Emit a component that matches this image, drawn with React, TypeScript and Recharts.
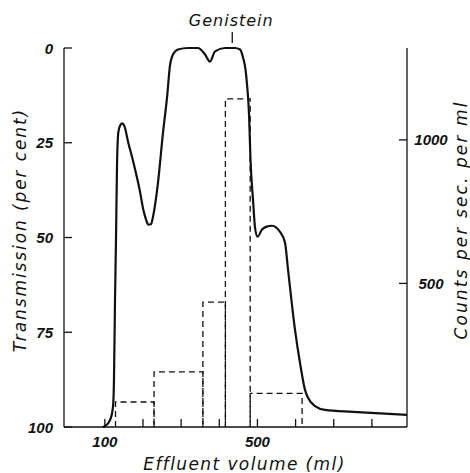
import React from 'react';
import { ComposedChart, Line, XAxis, YAxis, ReferenceDot, Label } from 'recharts';

// Elution profile: effluent volume (ml) against transmission (per cent)
const volume = [
  95, 100.5, 113.6, 121.4, 124, 126.7, 129.3, 131.9, 135.3, 139.8, 145.8, 151.6,
  161.5, 172.6, 183.6, 192.2, 200.9, 207.9, 214, 221, 226.3, 239.4, 252.5, 263,
  270.8, 278.7, 291.8, 318, 344, 362.6, 375.7, 388.8, 415, 441.2, 454.4, 462.2,
  468.8, 472.7, 478, 481.8, 488.4, 493.7, 500.2, 512, 522.5, 538.2, 559.2, 572.3,
  580.2, 598.5, 611.6, 624.7, 632.6, 650.9, 677.1, 750.5, 892,
];
const transmission = [
  100, 99.8, 98.2, 94.7, 87.6, 66.4, 50.6, 31.3, 22.3, 20.5, 19.9, 20.7,
  25.0, 29.2, 33.9, 37.9, 42.7, 45.2, 46.6, 46.5, 44.5, 35.5, 22.3, 13.1,
  4.6, 1.7, 0.4, 0, 0, 1.7, 3.6, 0.9, 0, 0, 0.4, 2.5,
  5.7, 9.6, 17.6, 29.5, 40, 47.4, 49.8, 47.9, 47.2, 46.9, 48.5, 51.4,
  58.5, 74.4, 83.1, 90.2, 92.3, 94.5, 95.5, 96, 96.8,
];

// Radioactivity of the collected fractions (counts per sec. per ml)
const fractionStart = [128, 229, 357, 416, 481];
const fractionEnd = [229, 357, 416, 481, 617];
const fractionCounts = [87, 192, 435, 1143, 117];

const xTicks = [100, 200, 300, 400, 500, 600, 700, 800];
const xTickLabels = [100, 500];
const leftTicks = [0, 25, 50, 75, 100];
const rightTicks = [500, 1000];

const genisteinVolume = 434;

const profile = volume.map((v, i) => ({ v, t: transmission[i] }));

// Each fraction is drawn as an open dashed box standing on the volume axis
const fractionOutlines = fractionCounts.map((c, i) => [
  { v: fractionStart[i], c: 0 },
  { v: fractionStart[i], c },
  { v: fractionEnd[i], c },
  { v: fractionEnd[i], c: 0 },
]);

const TITLE_FONT = '"DejaVu Sans", sans-serif';
const TICK_FONT = '"Liberation Sans", Arial, sans-serif';
const INK = '#111';

const titleStyle = {
  fontFamily: TITLE_FONT,
  fontStyle: 'italic' as const,
  fill: INK,
};
const tickStyle = {
  fontFamily: TICK_FONT,
  fontStyle: 'italic' as const,
  fontWeight: 700,
  fill: INK,
};

const BottomTick = (props: any) => {
  const { x, y, payload } = props;
  const show = xTickLabels.includes(payload.value);
  return (
    <g>
      <line x1={x} x2={x} y1={y} y2={y - 8} stroke={INK} strokeWidth={1.3} />
      {show && (
        <text x={x} y={y + 20} textAnchor="middle" fontSize={15} style={tickStyle}>
          {payload.value}
        </text>
      )}
    </g>
  );
};

const LeftTick = (props: any) => {
  const { x, y, payload } = props;
  return (
    <g>
      <line x1={x} x2={x + 8} y1={y} y2={y} stroke={INK} strokeWidth={1.3} />
      <text x={x - 11} y={y + 5.5} textAnchor="end" fontSize={15} style={tickStyle}>
        {payload.value}
      </text>
    </g>
  );
};

const RightTick = (props: any) => {
  const { x, y, payload } = props;
  return (
    <g>
      <line x1={x} x2={x - 8} y1={y} y2={y} stroke={INK} strokeWidth={1.3} />
      <text x={x + 24} y={y + 5.5} textAnchor="middle" fontSize={15} style={tickStyle}>
        {payload.value}
      </text>
    </g>
  );
};

const GenisteinMark = (props: any) => {
  const { cx, cy } = props;
  return (
    <g>
      <line x1={cx} x2={cx} y1={cy - 16} y2={cy - 5} stroke={INK} strokeWidth={1.3} />
      <text
        x={cx - 1}
        y={cy - 22}
        textAnchor="middle"
        fontSize={16}
        letterSpacing={1}
        style={titleStyle}
      >
        Genistein
      </text>
    </g>
  );
};

export default function App() {
  return (
    <div style={{ position: 'absolute', left: 0, top: 0, background: '#fff' }}>
      <ComposedChart
        width={470}
        height={473}
        data={profile}
        margin={{ top: 48, right: 0, bottom: 0, left: 0 }}
      >
        <XAxis
          dataKey="v"
          type="number"
          domain={[-7, 892]}
          ticks={xTicks}
          interval={0}
          height={46}
          tickSize={0}
          tickMargin={0}
          tick={<BottomTick />}
          tickLine={false}
          axisLine={{ stroke: INK, strokeWidth: 1.3 }}
        >
          <Label
            content={({ viewBox }: any) => (
              <text
                x={viewBox.x + viewBox.width / 2 + 9}
                y={viewBox.y + 43}
                textAnchor="middle"
                fontSize={17}
                letterSpacing={1.4}
                style={titleStyle}
              >
                Effluent volume (ml)
              </text>
            )}
          />
        </XAxis>
        <YAxis
          yAxisId="left"
          orientation="left"
          reversed
          domain={[0, 100]}
          ticks={leftTicks}
          interval={0}
          width={64}
          tickSize={0}
          tickMargin={0}
          tick={<LeftTick />}
          tickLine={false}
          axisLine={{ stroke: INK, strokeWidth: 1.3 }}
        >
          <Label
            content={({ viewBox }: any) => {
              const cx = viewBox.x + 26;
              const cy = 230;
              return (
                <text
                  x={cx}
                  y={cy}
                  transform={`rotate(-90 ${cx} ${cy})`}
                  textAnchor="middle"
                  fontSize={17}
                  letterSpacing={1.9}
                  style={titleStyle}
                >
                  Transmission (per cent)
                </text>
              );
            }}
          />
        </YAxis>
        <YAxis
          yAxisId="right"
          orientation="right"
          domain={[0, 1320]}
          ticks={rightTicks}
          interval={0}
          width={63}
          tickSize={0}
          tickMargin={0}
          tick={<RightTick />}
          tickLine={false}
          axisLine={{ stroke: INK, strokeWidth: 1.3 }}
        >
          <Label
            content={({ viewBox }: any) => {
              const cx = viewBox.x + 60;
              const cy = 220;
              return (
                <text
                  x={cx}
                  y={cy}
                  transform={`rotate(-90 ${cx} ${cy})`}
                  textAnchor="middle"
                  fontSize={17}
                  letterSpacing={2.1}
                  style={titleStyle}
                >
                  Counts per sec. per ml
                </text>
              );
            }}
          />
        </YAxis>

        {fractionOutlines.map((pts, i) => (
          <Line
            key={`fraction-${i}`}
            yAxisId="right"
            data={pts}
            dataKey="c"
            type="linear"
            stroke={INK}
            strokeWidth={1.3}
            strokeDasharray="6 4"
            dot={false}
            activeDot={false}
            isAnimationActive={false}
          />
        ))}

        <Line
          yAxisId="left"
          dataKey="t"
          type="monotone"
          stroke={INK}
          strokeWidth={2.2}
          dot={false}
          activeDot={false}
          isAnimationActive={false}
        />

        <ReferenceDot
          yAxisId="left"
          x={genisteinVolume}
          y={0}
          r={0}
          ifOverflow="visible"
          shape={<GenisteinMark />}
        />
      </ComposedChart>
    </div>
  );
}
